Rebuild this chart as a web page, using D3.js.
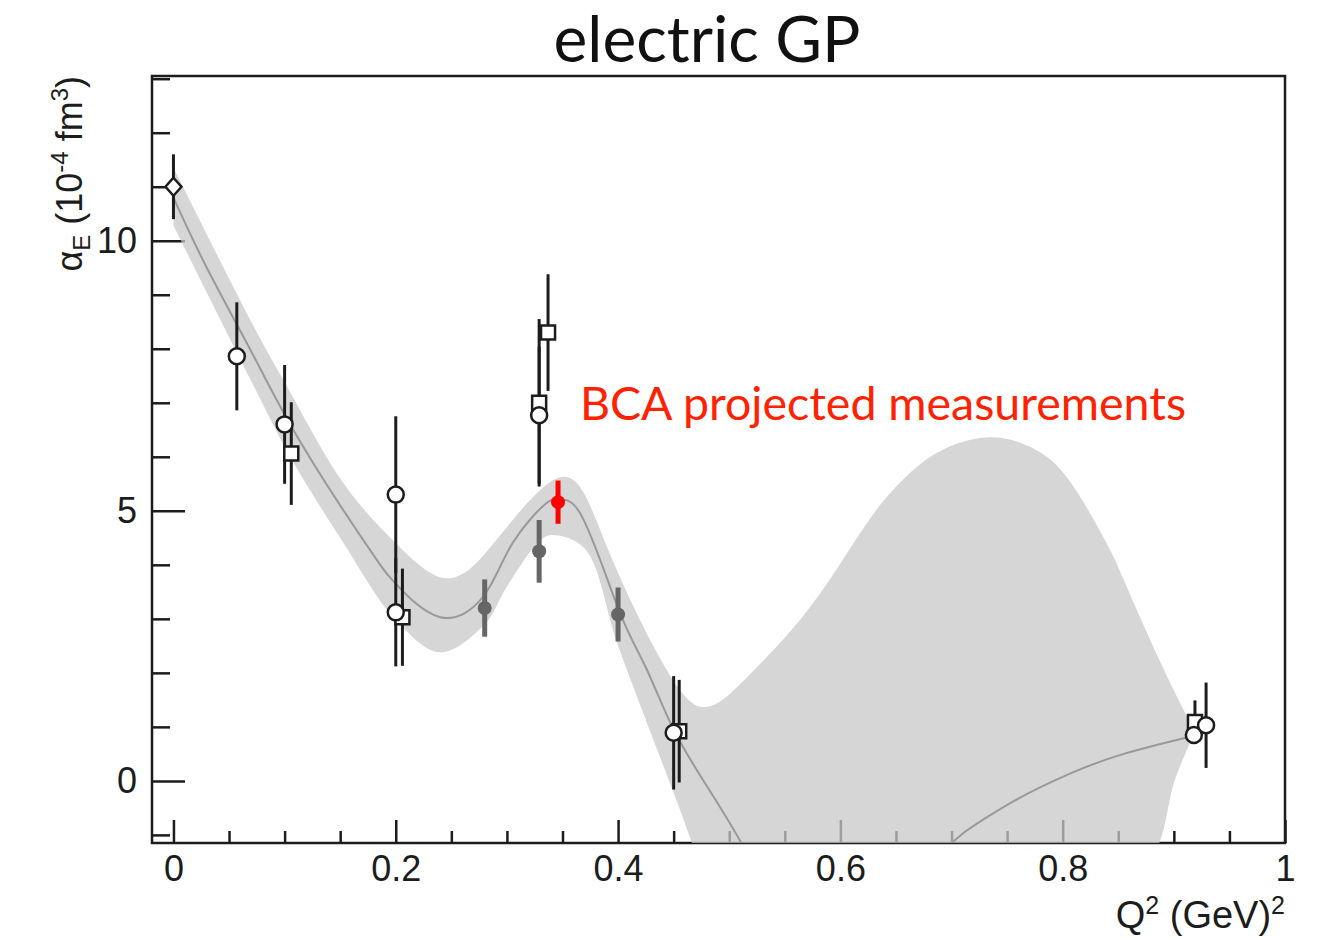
<!DOCTYPE html>
<html>
<head>
<meta charset="utf-8">
<script src="https://cdn.jsdelivr.net/npm/d3@7"></script>
<style>
  body { margin: 0; background: #fff; }
</style>
</head>
<body>
<svg id="chart" width="1320" height="939"></svg>
<script>
// ---- DATA ----
// central fit curve
var fitQ2  = [0, 0.03, 0.07, 0.105, 0.15, 0.186, 0.2, 0.24, 0.28, 0.305, 0.336, 0.345, 0.366, 0.4, 0.425, 0.45, 0.48, 0.511, 0.55, 0.6, 0.65, 0.7, 0.726, 0.758, 0.806, 0.855, 0.919];
var fitVal = [10.8, 9.5, 7.95, 6.6, 5.1, 4.0, 3.65, 3.03, 3.45, 4.4, 5.15, 5.17, 4.95, 3.2, 2.1, 0.95, -0.1, -1.15, -2.3, -2.6, -2.1, -1.15, -0.75, -0.35, 0.13, 0.5, 0.84];

// error band of the fit: upper edge
var bandHiQ2 = [0, 0.07, 0.105, 0.15, 0.2, 0.246, 0.28, 0.3, 0.341, 0.37, 0.4, 0.45, 0.479, 0.501, 0.534, 0.566, 0.598, 0.63, 0.662, 0.694, 0.736, 0.774, 0.806, 0.839, 0.855, 0.887, 0.919];
var bandHi   = [11.35, 8.5, 7.2, 5.6, 4.4, 3.75, 4.2, 4.7, 5.56, 5.3, 3.85, 1.85, 1.37, 1.62, 2.3, 3.04, 3.96, 4.95, 5.69, 6.15, 6.36, 6.15, 5.56, 4.42, 3.72, 2.24, 0.9];
// lower edge
var bandLoQ2 = [0, 0.07, 0.105, 0.15, 0.2, 0.24, 0.28, 0.3, 0.33, 0.341, 0.37, 0.4, 0.45, 0.48, 0.52, 0.6, 0.7, 0.8, 0.86, 0.887, 0.9, 0.913, 0.919];
var bandLo   = [10.28, 7.4, 6.0, 4.5, 2.98, 2.38, 2.9, 3.6, 4.45, 4.55, 4.3, 2.5, -0.22, -1.85, -3.5, -4.5, -4.5, -4, -2.2, -1.15, -0.04, 0.63, 0.9];

// measurements: [Q2, alphaE, error]
var diamondPts = [[0, 11.0, 0.6]];
var circlePts  = [[0.057, 7.86, 1.0], [0.100, 6.6, 1.1], [0.2, 5.3, 1.45], [0.2, 3.12, 1.0],
                  [0.329, 6.77, 1.27], [0.45, 0.89, 1.05], [0.918, 0.85, 0.15], [0.929, 1.03, 0.79]];
var squarePts  = [[0.106, 6.06, 0.95], [0.206, 3.03, 0.9], [0.329, 7.0, 1.55], [0.337, 8.3, 1.08],
                  [0.455, 0.92, 0.95], [0.919, 1.09, 0.4]];
var grayPts    = [[0.28, 3.2, 0.53], [0.329, 4.25, 0.58], [0.4, 3.08, 0.5]];
var bcaPts     = [[0.346, 5.16, 0.4]];

// axes
var xMajor = [0, 0.2, 0.4, 0.6, 0.8, 1];
var xMajorLabels = ["0", "0.2", "0.4", "0.6", "0.8", "1"];
var xMinor = [0.05, 0.1, 0.15, 0.25, 0.3, 0.35, 0.45, 0.5, 0.55, 0.65, 0.7, 0.75, 0.85, 0.9, 0.95];
var yMajor = [0, 5, 10];
var yMajorLabels = ["0", "5", "10"];
var yMinor = [-1, 1, 2, 3, 4, 6, 7, 8, 9, 11, 12, 13];

// ---- CHART ----
var svg = d3.select("#chart");
var plotL = 152, plotR = 1285, plotT = 76, plotB = 843;

var x = d3.scaleLinear().domain([-0.0193, 1.0]).range([plotL, plotR]);
var y = d3.scaleLinear().domain([-1.15, 13.05]).range([plotB, plotT]);

var ink = "#1c1c1c";
var tickFont = "'Liberation Sans', Arial, Helvetica, sans-serif";
var titleFont = "Lato, 'Open Sans', sans-serif";

svg.append("rect").attr("width", 1320).attr("height", 939).attr("fill", "#fff");

svg.append("defs").append("clipPath").attr("id", "plot")
  .append("rect").attr("x", plotL).attr("y", plotT)
  .attr("width", plotR - plotL).attr("height", plotB - plotT);

// axes (drawn first so the band greys them out)
svg.append("g").attr("transform", "translate(0," + plotB + ")")
  .call(d3.axisBottom(x).tickValues(xMajor).tickSize(-23).tickPadding(12)
    .tickFormat(function(d, i) { return xMajorLabels[i]; }));
svg.append("g").attr("transform", "translate(0," + plotB + ")")
  .call(d3.axisBottom(x).tickValues(xMinor).tickSize(-12).tickFormat(""));

svg.append("g").attr("transform", "translate(" + plotL + ",0)")
  .call(d3.axisLeft(y).tickValues(yMajor).tickSize(-33).tickPadding(15)
    .tickFormat(function(d, i) { return yMajorLabels[i]; }));
svg.append("g").attr("transform", "translate(" + plotL + ",0)")
  .call(d3.axisLeft(y).tickValues(yMinor).tickSize(-18).tickFormat(""));

svg.selectAll(".domain").remove();
svg.selectAll(".tick line").attr("stroke", ink).attr("stroke-width", 2.5);
svg.selectAll(".tick text").attr("fill", ink).attr("font-family", tickFont).attr("font-size", 36);

// frame
svg.append("rect")
  .attr("x", plotL).attr("y", plotT)
  .attr("width", plotR - plotL).attr("height", plotB - plotT)
  .attr("fill", "none").attr("stroke", ink).attr("stroke-width", 2.5);

// band + fit curve
var plot = svg.append("g").attr("clip-path", "url(#plot)");

var upperLine = d3.line()
  .x(function(d, i) { return x(bandHiQ2[i]); })
  .y(function(d, i) { return y(bandHi[i]); })
  .curve(d3.curveNatural);
var lowerIdx = d3.range(bandLoQ2.length).reverse();
var lowerLine = d3.line()
  .x(function(k) { return x(bandLoQ2[k]); })
  .y(function(k) { return y(bandLo[k]); })
  .curve(d3.curveCatmullRom.alpha(0.5));
var bandPath = upperLine(bandHiQ2) + lowerLine(lowerIdx).replace(/^M/, "L") + "Z";
plot.append("path").attr("d", bandPath)
  .attr("fill", "rgb(200,200,200)").attr("fill-opacity", 0.75);

var fit = d3.line()
  .x(function(d, i) { return x(fitQ2[i]); })
  .y(function(d, i) { return y(fitVal[i]); })
  .curve(d3.curveNatural);
plot.append("path").attr("d", fit(fitQ2))
  .attr("fill", "none").attr("stroke", "#999").attr("stroke-width", 2);

// error bars
function bars(pts, color, width) {
  svg.append("g").selectAll("line").data(pts).join("line")
    .attr("x1", function(d) { return x(d[0]); })
    .attr("x2", function(d) { return x(d[0]); })
    .attr("y1", function(d) { return y(d[1] + d[2]); })
    .attr("y2", function(d) { return y(d[1] - d[2]); })
    .attr("stroke", color).attr("stroke-width", width);
}
bars(diamondPts, ink, 3);
bars(circlePts, ink, 3);
bars(squarePts, ink, 3);
bars(grayPts, "#666", 5);
bars(bcaPts, "#ff0000", 5);

// markers
var diamondType = {
  draw: function(ctx, size) {
    var w = 8, h = 9;
    ctx.moveTo(0, -h); ctx.lineTo(w, 0); ctx.lineTo(0, h); ctx.lineTo(-w, 0); ctx.closePath();
  }
};
function marks(pts, type, size, fill, stroke) {
  svg.append("g").selectAll("path").data(pts).join("path")
    .attr("transform", function(d) { return "translate(" + x(d[0]) + "," + y(d[1]) + ")"; })
    .attr("d", d3.symbol().type(type).size(size))
    .attr("fill", fill).attr("stroke", stroke).attr("stroke-width", stroke === "none" ? 0 : 2.5);
}
marks(squarePts, d3.symbolSquare, 196, "#fff", ink);
marks(circlePts, d3.symbolCircle, Math.PI * 64, "#fff", ink);
marks(diamondPts, diamondType, 100, "#fff", ink);
marks(grayPts, d3.symbolCircle, Math.PI * 49, "#666", "none");
marks(bcaPts, d3.symbolCircle, Math.PI * 49, "#ff0000", "none");

// texts
svg.append("text")
  .attr("x", 707).attr("y", 62).attr("text-anchor", "middle")
  .attr("font-family", titleFont).attr("font-size", 64)
  .attr("fill", "#111").text("electric GP");

svg.append("text")
  .attr("x", 580).attr("y", 420)
  .attr("font-family", titleFont).attr("font-size", 46.5)
  .attr("fill", "#ff2200").text("BCA projected measurements");

var yl = svg.append("text")
  .attr("transform", "translate(82," + plotT + ") rotate(-90)")
  .attr("text-anchor", "end")
  .attr("font-family", tickFont).attr("font-size", 36).attr("fill", ink);
yl.append("tspan").text("\u03b1");
yl.append("tspan").attr("font-size", 24).attr("dy", 8).text("E");
yl.append("tspan").attr("dy", -8).text(" (10");
yl.append("tspan").attr("font-size", 24).attr("dy", -14).text("-4");
yl.append("tspan").attr("dy", 14).text(" fm");
yl.append("tspan").attr("font-size", 24).attr("dy", -14).text("3");
yl.append("tspan").attr("dy", 14).text(")");

var xl = svg.append("text")
  .attr("x", plotR).attr("y", 928).attr("text-anchor", "end")
  .attr("font-family", tickFont).attr("font-size", 38).attr("fill", ink);
xl.append("tspan").text("Q");
xl.append("tspan").attr("font-size", 25).attr("dy", -14).text("2");
xl.append("tspan").attr("dy", 14).text(" (GeV)");
xl.append("tspan").attr("font-size", 25).attr("dy", -14).text("2");
</script>
</body>
</html>
